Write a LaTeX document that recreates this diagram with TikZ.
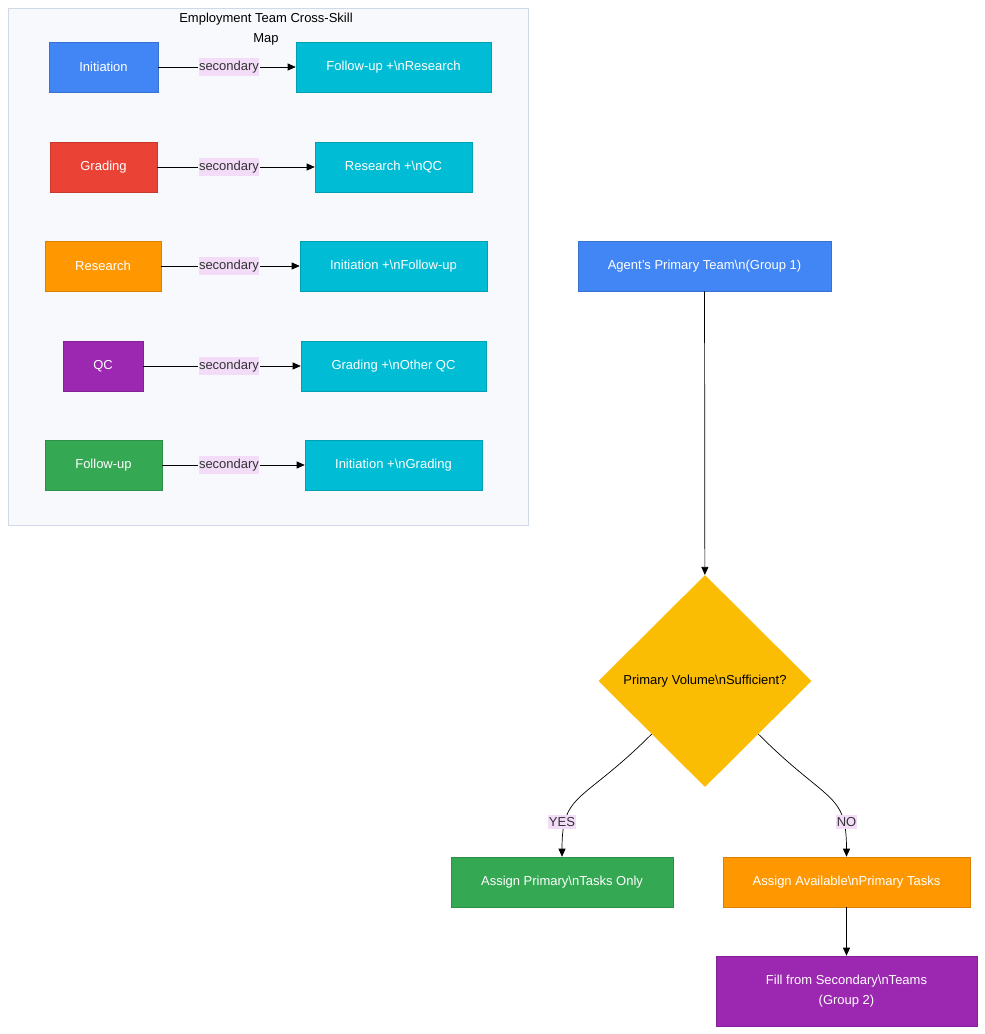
\documentclass[tikz,border=0pt]{standalone}
\usepackage{fontspec}
\setmainfont{Liberation Sans}
\usetikzlibrary{arrows.meta}
\usetikzlibrary{shapes.geometric}

\definecolor{teamblue}{HTML}{4285F4}
\definecolor{teamred}{HTML}{EA4335}
\definecolor{teamorange}{HTML}{FF9800}
\definecolor{teampurple}{HTML}{9C27B0}
\definecolor{teamgreen}{HTML}{34A853}
\definecolor{skillteal}{HTML}{00BCD4}
\definecolor{askyellow}{HTML}{FBBC04}
\definecolor{mapbg}{HTML}{F8F9FD}
\definecolor{mapline}{HTML}{D0D9E8}
\definecolor{lblbg}{HTML}{F2DCF8}
\definecolor{lbltext}{HTML}{333333}

\tikzset{
	box/.style={rectangle, inner sep=0pt, minimum height=50pt, text=white, align=center,
		font=\fontsize{13}{20}\selectfont, line width=0.6pt},
	lbl/.style={fill=lblbg, inner xsep=0.5pt, inner ysep=2.5pt, text=lbltext,
		font=\fontsize{13}{16}\selectfont},
	arr/.style={-{Triangle[length=8pt,width=7pt]}, line width=0.7pt}
}

\begin{document}
\begin{tikzpicture}[x=1pt, y=-1pt]
	\useasboundingbox (0, 0) rectangle (985, 1034);

	% cross-skill map
	\draw[fill=mapbg, draw=mapline, line width=0.8pt] (8, 8) rectangle (528, 525);
	\node[align=center, font=\fontsize{13}{20}\selectfont] (maptitle) at (266, 29) {Employment Team Cross-Skill\\Map};

	\node[box, fill=teamblue, draw=teamblue!85!black, minimum width=109pt] (ini) at (103.5, 67) {Initiation};
	\node[box, fill=skillteal, draw=skillteal!85!black, minimum width=195pt] (inisec) at (393.5, 67) {Follow-up +\textbackslash nResearch};
	\node[lbl] (lbl1) at (229, 67) {secondary};
	\draw[arr] (ini) -- (lbl1) -- (inisec);

	\node[box, fill=teamred, draw=teamred!85!black, minimum width=107pt] (gra) at (103.5, 167) {Grading};
	\node[box, fill=skillteal, draw=skillteal!85!black, minimum width=157pt] (grasec) at (393.5, 167) {Research +\textbackslash nQC};
	\node[lbl] (lbl2) at (229, 167) {secondary};
	\draw[arr] (gra) -- (lbl2) -- (grasec);

	\node[box, fill=teamorange, draw=teamorange!85!black, minimum width=116pt] (res) at (103, 266) {Research};
	\node[box, fill=skillteal, draw=skillteal!85!black, minimum width=187pt] (ressec) at (393.5, 266) {Initiation +\textbackslash nFollow-up};
	\node[lbl] (lbl3) at (229, 266) {secondary};
	\draw[arr] (res) -- (lbl3) -- (ressec);

	\node[box, fill=teampurple, draw=teampurple!85!black, minimum width=80pt] (qc) at (103, 366) {QC};
	\node[box, fill=skillteal, draw=skillteal!85!black, minimum width=185pt] (qcsec) at (393.5, 366) {Grading +\textbackslash nOther QC};
	\node[lbl] (lbl4) at (229, 366) {secondary};
	\draw[arr] (qc) -- (lbl4) -- (qcsec);

	\node[box, fill=teamgreen, draw=teamgreen!85!black, minimum width=117pt] (fol) at (103.5, 465) {Follow-up};
	\node[box, fill=skillteal, draw=skillteal!85!black, minimum width=177pt] (folsec) at (393.5, 465) {Initiation +\textbackslash nGrading};
	\node[lbl] (lbl5) at (229, 465) {secondary};
	\draw[arr] (fol) -- (lbl5) -- (folsec);

	% assignment flow
	\node[box, fill=teamblue, draw=teamblue!85!black, minimum width=253pt] (team) at (704.5, 266) {Agent's Primary Team\textbackslash n(Group 1)};
	\node[diamond, fill=askyellow, minimum width=213pt, minimum height=212pt, inner sep=0pt,
		font=\fontsize{13}{16}\selectfont] (ask) at (705, 681) {Primary Volume\textbackslash nSufficient?};
	\node[box, fill=teamgreen, draw=teamgreen!85!black, minimum width=222pt] (only) at (562, 882) {Assign Primary\textbackslash nTasks Only};
	\node[box, fill=teamorange, draw=teamorange!85!black, minimum width=247pt] (avail) at (846.5, 882) {Assign Available\textbackslash nPrimary Tasks};
	\node[box, fill=teampurple, draw=teampurple!85!black, minimum width=261pt, minimum height=70pt] (fill) at (846.5, 991) {Fill from Secondary\textbackslash nTeams\\(Group 2)};

	\draw[arr] (team) -- (ask);
	\draw[arr] (ask.south west) .. controls +(-70, 70) and +(0, -65) .. (only.north);
	\draw[arr] (ask.south east) .. controls +(70, 70) and +(0, -65) .. (avail.north);
	\node[lbl] (yes) at (562, 822) {YES};
	\node[lbl] (no) at (846.5, 822) {NO};
	\draw[arr] (avail) -- (fill);
\end{tikzpicture}
\end{document}
